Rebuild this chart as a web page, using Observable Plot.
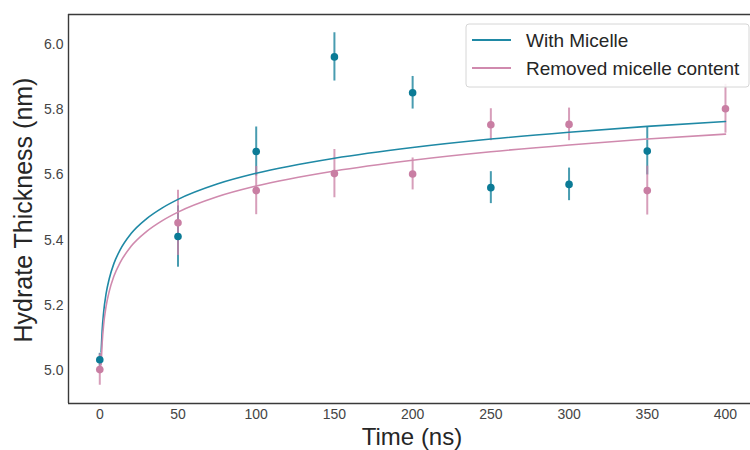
<!DOCTYPE html>
<html><head><meta charset="utf-8">
<script src="https://cdn.jsdelivr.net/npm/d3@7"></script>
<script src="https://cdn.jsdelivr.net/npm/@observablehq/plot@0.6"></script>
<style>
body{margin:0;background:#fff;}
#chart{position:relative;width:750px;height:450px;}
</style>
</head><body><div id="chart"></div>
<script>
// ---- data ----
const times = [0, 50, 100, 150, 200, 250, 300, 350, 400];
const micelleMean = [5.033, 5.411, 5.672, 5.962, 5.852, 5.561, 5.571, 5.673, null];
const micelleErr  = [0.02, 0.094, 0.075, 0.074, 0.05, 0.049, 0.05, 0.073, null];
const removedMean = [5.003, 5.453, 5.552, 5.604, 5.603, 5.754, 5.755, 5.552, 5.803];
const removedErr  = [0.048, 0.10, 0.074, 0.074, 0.049, 0.049, 0.05, 0.075, 0.075];

// fitted curves
const micelleFitX = [0.85, 1.5, 2.5, 4, 6, 9, 13, 20, 30, 40, 50, 75, 100, 150, 200, 250, 300, 350, 400];
const micelleFitY = [5.057, 5.122, 5.181, 5.235, 5.281, 5.328, 5.370, 5.420, 5.466, 5.499, 5.525, 5.572, 5.605, 5.651, 5.684, 5.710, 5.731, 5.749, 5.764];
const removedFitX = [0.85, 1.5, 2.5, 4, 6, 9, 13, 20, 30, 40, 50, 75, 100, 150, 200, 250, 300, 350, 400];
const removedFitY = [5.017, 5.083, 5.142, 5.196, 5.242, 5.289, 5.331, 5.381, 5.427, 5.460, 5.486, 5.533, 5.566, 5.612, 5.645, 5.671, 5.692, 5.710, 5.725];

const seriesNames = ["With Micelle", "Removed micelle content"];
const xTicks = [0, 50, 100, 150, 200, 250, 300, 350, 400];
const yTicks = [5.0, 5.2, 5.4, 5.6, 5.8, 6.0];
const xLabel = "Time (ns)";
const yLabel = "Hydrate Thickness (nm)";

// ---- styling ----
const teal = "#0b7b96", tealLine = "#1f89a5";
const pink = "#c97ea3", pinkLine = "#d08aae";
const xDomain = [-20, 416];
const yDomain = [4.899, 6.092];

const pts = (means, errs) => times.map((t, i) => ({t, y: means[i], e: errs[i]})).filter(d => d.y != null);
const fit = (xs, ys) => xs.map((x, i) => ({x, y: ys[i]}));
const mPts = pts(micelleMean, micelleErr), rPts = pts(removedMean, removedErr);
const mFit = fit(micelleFitX, micelleFitY), rFit = fit(removedFitX, removedFitY);

const font = "'Liberation Sans', Arial, sans-serif";
const plot = Plot.plot({
  width: 750, height: 450,
  marginLeft: 68, marginRight: 0, marginTop: 14, marginBottom: 47,
  style: {fontFamily: font, fontSize: "14px", color: "#444", background: "#fff"},
  x: {domain: xDomain, ticks: xTicks, tickSize: 0, tickPadding: 6, label: null},
  y: {domain: yDomain, ticks: yTicks, tickFormat: ".1f", tickSize: 0, tickPadding: 5, label: null},
  marks: [
    Plot.ruleX(mPts, {x: "t", y1: d => d.y - d.e, y2: d => d.y + d.e, stroke: teal, strokeWidth: 2, strokeOpacity: 0.75}),
    Plot.ruleX(rPts, {x: "t", y1: d => d.y - d.e, y2: d => d.y + d.e, stroke: pink, strokeWidth: 2, strokeOpacity: 0.75}),
    Plot.line(mFit, {x: "x", y: "y", stroke: tealLine, strokeWidth: 1.6, curve: "monotone-x"}),
    Plot.line(rFit, {x: "x", y: "y", stroke: pinkLine, strokeWidth: 1.6, curve: "monotone-x"}),
    Plot.dot(mPts, {x: "t", y: "y", r: 3.8, fill: teal, stroke: "none"}),
    Plot.dot(rPts, {x: "t", y: "y", r: 3.8, fill: pink, stroke: "none"}),
    Plot.ruleX([xDomain[0]], {stroke: "#3a3a3a", strokeWidth: 1.4}),
    Plot.ruleY([yDomain[0], yDomain[1]], {stroke: "#3a3a3a", strokeWidth: 1.4})
  ]
});
document.getElementById("chart").appendChild(plot);

const svg = d3.select(plot);
// axis titles
svg.append("text").attr("x", 412).attr("y", 445).attr("text-anchor", "middle")
  .attr("font-family", font).attr("font-size", 24).attr("fill", "#262626").text(xLabel);
svg.append("text").attr("transform", "translate(32,210) rotate(-90)").attr("text-anchor", "middle")
  .attr("font-family", font).attr("font-size", 25).attr("fill", "#262626").text(yLabel);

// legend
const lg = svg.append("g");
lg.append("rect").attr("x", 466).attr("y", 24).attr("width", 283).attr("height", 63).attr("rx", 3)
  .attr("fill", "#fff").attr("fill-opacity", 0.85).attr("stroke", "#d6d6d6").attr("stroke-width", 1);
[[tealLine, 40], [pinkLine, 68]].forEach(([c, y], i) => {
  lg.append("line").attr("x1", 472).attr("x2", 511).attr("y1", y).attr("y2", y).attr("stroke", c).attr("stroke-width", 1.8);
  lg.append("text").attr("x", 526).attr("y", y).attr("dy", "0.35em").attr("text-anchor", "start")
    .attr("font-family", font).attr("font-size", 19).attr("fill", "#262626").text(seriesNames[i]);
});
</script>
</body></html>
